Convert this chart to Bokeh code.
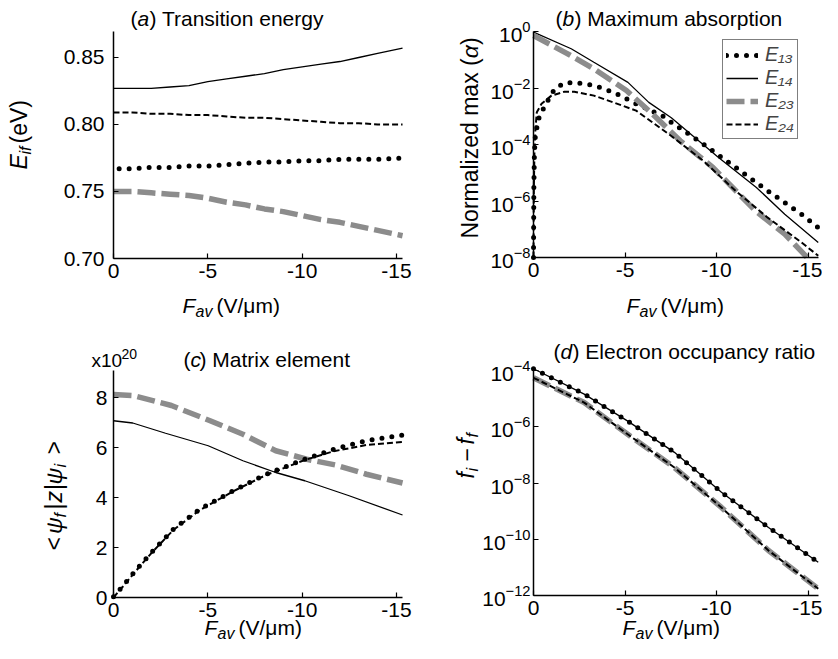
import math
from bokeh.plotting import figure
from bokeh.models import (Range1d, FixedTicker, Label, Legend, LegendItem, NumeralTickFormatter,
                          LinearAxis, LogAxis)
from bokeh.layouts import column, row
from bokeh.embed import file_html
from bokeh.resources import INLINE

FONT = "Liberation Sans"
GRAY = "#8c8c8c"

# ---------------- data ----------------
fav_ticks = [0, -5, -10, -15]
fav_tick_labels = ["0", "-5", "-10", "-15"]
legend_labels = ["E₁₃", "E₁₄", "E₂₃", "E₂₄"]

# (a) transition energy (eV)
a_ticks = [0.70, 0.75, 0.80, 0.85]
a_x = [0, -1, -2, -3, -4, -5, -6, -7, -8, -9, -10, -11, -12, -13, -14, -15.32]
a_e14 = [0.827, 0.827, 0.827, 0.828, 0.829, 0.832, 0.834, 0.836, 0.838, 0.841, 0.843, 0.845, 0.847, 0.850, 0.853, 0.857]
a_e24 = [0.809, 0.809, 0.808, 0.808, 0.807, 0.807, 0.806, 0.805, 0.805, 0.804, 0.803, 0.802, 0.801, 0.801, 0.800, 0.800]
a_e13_x = [-0.3, -1, -2, -3, -4, -5, -6, -7, -8, -9, -10, -11, -12, -13, -14, -15.32]
a_e13 = [0.767, 0.767, 0.768, 0.768, 0.769, 0.769, 0.770, 0.771, 0.772, 0.772, 0.773, 0.773, 0.774, 0.774, 0.774, 0.775]
a_e23 = [0.750, 0.750, 0.749, 0.748, 0.747, 0.745, 0.742, 0.740, 0.737, 0.735, 0.732, 0.729, 0.727, 0.724, 0.721, 0.717]

# (b) normalized maximum absorption
b_ticks = [1e-8, 1e-6, 1e-4, 1e-2, 1e0]
b_e14_x = [0, -2.06, -3.3, -5.16, -6.3, -7.53, -10.11, -12.18, -13.73, -15.56]
b_e14 = [0.955, 0.245, 0.0813, 0.0158, 3.1e-3, 8.9e-4, 3.47e-5, 3.02e-6, 3.39e-7, 3.39e-8]
b_e23_x = [0, -1.87, -3.3, -5.08, -6.5, -8.02, -9.8, -12.13, -13.73, -14.96]
b_e23 = [0.724, 0.162, 0.0479, 8.13e-3, 1.20e-3, 1.35e-4, 1.55e-5, 4.47e-7, 6.76e-8, 1.0e-8]
b_e13_x = [0, -0.02, -0.05, -0.1, -0.27, -0.62, -1.16, -1.69, -2.23, -3.3, -4.37, -5.61, -7.04, -7.5,
           -9.27, -11.04, -12.8, -14.65, -15.56]
b_e13 = [1e-8, 3.16e-6, 5.01e-5, 2.0e-4, 7.94e-4, 2.4e-3, 9.33e-3, 1.51e-2, 1.58e-2, 1.23e-2, 7.08e-3,
         2.75e-3, 1.05e-3, 6.31e-4, 1.05e-4, 1.55e-5, 2.29e-6, 3.39e-7, 1.15e-7]
b_e24_x = [0, -0.02, -0.05, -0.1, -0.18, -0.44, -0.98, -1.69, -2.23, -3.3, -4.37, -5.61, -7.53, -9.27,
           -11.04, -12.8, -14.65, -15.56]
b_e24 = [1e-8, 3.16e-6, 5.01e-5, 3.16e-4, 1.38e-3, 2.75e-3, 5.37e-3, 7.41e-3, 7.41e-3, 5.37e-3, 3.09e-3,
         1.58e-3, 2.0e-4, 2.69e-5, 2.29e-6, 2.57e-7, 3.39e-8, 1.15e-8]

# (c) matrix element (x1e20)
c_ticks = [0, 2, 4, 6, 8]
c_e23_x = [0, -1.02, -3.07, -5.12, -6.86, -8.6, -10.24, -11.78, -13.41, -15.32]
c_e23 = [8.12, 8.08, 7.68, 7.07, 6.53, 5.87, 5.53, 5.3, 4.93, 4.58]
c_e14_x = [0, -1.02, -2.76, -5.02, -6.86, -8.6, -10.14, -12.49, -15.32]
c_e14 = [7.07, 6.98, 6.57, 6.07, 5.47, 5.0, 4.67, 4.07, 3.3]
c_e13_x = [0, -0.51, -1.23, -2.1, -3.17, -4.58, -6.35, -8.09, -10.14, -11.67, -13.41, -15.32]
c_e13 = [0.03, 0.47, 1.13, 1.87, 2.73, 3.53, 4.27, 4.93, 5.53, 5.93, 6.27, 6.5]
c_e24 = [0.0, 0.45, 1.1, 1.85, 2.7, 3.5, 4.25, 4.9, 5.5, 5.85, 6.1, 6.22]

# (d) electron occupancy ratio
d_ticks = [1e-12, 1e-10, 1e-8, 1e-6, 1e-4]
d_x = [0, -2.77, -5.13, -7.7, -10.27, -12.84, -15.56]
d_upper = [1.15e-4, 1.45e-5, 1.62e-6, 1.23e-7, 4.68e-9, 2.63e-10, 1.51e-11]
d_lower = [5.5e-5, 7.24e-6, 5.5e-7, 3.55e-8, 1.35e-9, 3.98e-11, 1.74e-12]

# ---------------- styles ----------------
STY = {
    "E13": dict(line_color="black", line_width=5, line_dash="0 10", line_cap="round"),
    "E14": dict(line_color="black", line_width=1.3),
    "E23": dict(line_color=GRAY, line_width=5.5, line_dash="18 6"),
    "E24": dict(line_color="black", line_width=2, line_dash="6 3"),
}

ROW1_H, ROW2_H = 326, 317


def panel(W, H, ox, oy, px0, px15, x_end, py_lo, py_hi, y_lo, y_hi, log, yticks, ystand):
    """Figure whose frame is the whole canvas; axes are pinned (fixed_location)."""
    k = (px15 - px0) / 15.0
    xr = Range1d((px0 - ox) / k, -(ox + W - px0) / k)
    if log:
        lo, hi = math.log10(y_lo), math.log10(y_hi)
    else:
        lo, hi = y_lo, y_hi
    r = (hi - lo) / (py_lo - py_hi)
    ys, ye = lo - (oy + H - py_lo) * r, lo + (py_lo - oy) * r
    if log:
        yr = Range1d(10 ** ys, 10 ** ye)
    else:
        yr = Range1d(ys, ye)
    p = figure(width=W, height=H, x_range=xr, y_range=yr, y_axis_type="log" if log else "linear",
               x_axis_location=None, y_axis_location=None, output_backend="svg",
               toolbar_location=None, min_border=0)
    p.outline_line_color = None
    p.xgrid.visible = False
    p.ygrid.visible = False
    xa = LinearAxis(fixed_location=y_lo, bounds=(x_end, 0), ticker=FixedTicker(ticks=fav_ticks),
                    major_label_overrides=dict(zip(fav_ticks, fav_tick_labels)),
                    major_label_standoff=5)
    if log:
        ya = LogAxis(fixed_location=0, bounds=(y_lo, y_hi), ticker=FixedTicker(ticks=yticks),
                     major_label_standoff=ystand)
    else:
        ya = LinearAxis(fixed_location=0, bounds=(y_lo, y_hi), ticker=FixedTicker(ticks=yticks),
                        major_label_standoff=ystand)
    for ax in (xa, ya):
        ax.major_tick_in = 5
        ax.major_tick_out = 0
        ax.minor_tick_in = 0
        ax.minor_tick_out = 0
        ax.axis_line_color = "black"
        ax.axis_line_width = 1.5
        ax.major_tick_line_color = "black"
        ax.major_tick_line_width = 1.2
        ax.major_label_text_font = FONT
        ax.major_label_text_font_size = "21px"
        ax.major_label_text_color = "black"
    p.add_layout(xa, "below")
    p.add_layout(ya, "left")
    return p, ya


R90 = math.pi / 2


def put(p, frame, px, py, s, size=21, style="normal", angle=0.0):
    left, bottom, y0 = frame
    corr = 0.36 * size          # renderer places text a little below the alphabetic anchor
    if angle == 0.0:
        py -= corr
    else:
        px -= corr
    p.add_layout(Label(x=0, y=y0, x_units="data", y_units="data",
                       x_offset=px - left, y_offset=bottom - py, text=s, angle=angle,
                       text_font=FONT, text_font_size=f"{size}px", text_font_style=style,
                       text_color="black", text_align="left", text_baseline="alphabetic"))


def xlabel(p, frame, fx, base):
    put(p, frame, fx, base, "F", 21, "italic")
    put(p, frame, fx + 13, base + 4, "av", 16, "italic")
    put(p, frame, fx + 34, base, "(V/μm)", 21)


# ---------------- (a) ----------------
pa, ya = panel(420, ROW1_H, 0, 0, 113, 396, -15.32, 258, 31, 0.70, 0.8694, False, a_ticks, 9)
ya.formatter = NumeralTickFormatter(format="0.00")
pa.line(a_x, a_e14, **STY["E14"])
pa.line(a_x, a_e24, **STY["E24"])
pa.line(a_e13_x, a_e13, **STY["E13"])
pa.line(a_x, a_e23, **STY["E23"])
fa = (113, 258, 0.70)
put(pa, fa, 130, 26, "(")
put(pa, fa, 137, 26, "a", style="italic")
put(pa, fa, 149, 26, ") Transition energy")
xlabel(pa, fa, 182, 313)
put(pa, fa, 27, 169, "E", 23, "italic", R90)
put(pa, fa, 31, 154, "if", 16, "italic", R90)
put(pa, fa, 27, 143, "(eV)", 23, "normal", R90)

# ---------------- (b) ----------------
pb, _ = panel(402, ROW1_H, 420, 0, 533, 807.5, -15.56, 257, 31, 1e-8, 1.0, True, b_ticks, 3)
r13 = pb.line(b_e13_x, b_e13, **STY["E13"])
r14 = pb.line(b_e14_x, b_e14, **STY["E14"])
r23 = pb.line(b_e23_x, b_e23, **STY["E23"])
r24 = pb.line(b_e24_x, b_e24, **STY["E24"])
fb = (533, 257, 1e-8)
put(pb, fb, 555, 26, "(")
put(pb, fb, 562, 26, "b", style="italic")
put(pb, fb, 574, 26, ") Maximum absorption")
xlabel(pb, fb, 626, 313)
put(pb, fb, 478, 238, "Normalized max (", 23, "normal", R90)
put(pb, fb, 478, 57.8, "α", 23, "italic", R90)
put(pb, fb, 478, 44.5, ")", 23, "normal", R90)
leg = Legend(items=[LegendItem(label=lbl, renderers=[r]) for lbl, r in zip(legend_labels, [r13, r14, r23, r24])],
             location=(722 - 420, ROW1_H - 139))
leg.label_text_font = FONT
leg.label_text_font_size = "20px"
leg.label_text_font_style = "italic"
leg.glyph_width = 32
leg.glyph_height = 20
leg.label_height = 20
leg.label_standoff = 7
leg.spacing = 0
leg.padding = 3
leg.margin = 0
leg.border_line_color = "black"
leg.border_line_width = 1.3
leg.background_fill_alpha = 1.0
pb.add_layout(leg)

# ---------------- (c) ----------------
pc, _ = panel(420, ROW2_H, 0, ROW1_H, 113, 396, -15.32, 597, 370, 0, 9.08, False, c_ticks, 6)
pc.line(c_e23_x, c_e23, **STY["E23"])
pc.line(c_e14_x, c_e14, **STY["E14"])
pc.line(c_e13_x, c_e24, **STY["E24"])
pc.line(c_e13_x, c_e13, **STY["E13"])
fc = (113, 597, 0)
put(pc, fc, 183, 367, "(")
put(pc, fc, 190, 367, "c", style="italic")
put(pc, fc, 199, 367, ") Matrix element")
put(pc, fc, 91, 367, "x10", 19)
put(pc, fc, 121, 359, "20", 14)
xlabel(pc, fc, 204, 635)
put(pc, fc, 62, 550, "<", 23, "normal", R90)
put(pc, fc, 62, 533.5, "ψ", 23, "italic", R90)
put(pc, fc, 66, 517, "f", 16, "italic", R90)
put(pc, fc, 62, 509, "|", 23, "normal", R90)
put(pc, fc, 62, 502, "z", 23, "italic", R90)
put(pc, fc, 62, 489.5, "|", 23, "normal", R90)
put(pc, fc, 62, 484, "ψ", 23, "italic", R90)
put(pc, fc, 66, 467, "i", 16, "italic", R90)
put(pc, fc, 62, 454, ">", 23, "normal", R90)

# ---------------- (d) ----------------
pd, _ = panel(402, ROW2_H, 420, ROW1_H, 533, 807.5, -15.56, 595, 370, 1e-12, 1e-4, True, d_ticks, 3)
pd.line(d_x, d_lower, **STY["E23"])
pd.line(d_x, d_lower, **STY["E24"])
pd.line(d_x, d_upper, **STY["E14"])
pd.line(d_x, d_upper, **STY["E13"])
fd = (533, 595, 1e-12)
put(pd, fd, 553, 359, "(")
put(pd, fd, 560, 359, "d", style="italic")
put(pd, fd, 572, 359, ") Electron occupancy ratio")
xlabel(pd, fd, 622, 635)
put(pd, fd, 474, 478, "f", 23, "italic", R90)
put(pd, fd, 478, 471, "i", 16, "italic", R90)
put(pd, fd, 474, 461, "−", 23, "normal", R90)
put(pd, fd, 474, 444, "f", 23, "italic", R90)
put(pd, fd, 478, 437, "f", 16, "italic", R90)

layout = column(row(pa, pb), row(pc, pd))
open("out.html", "w").write(file_html(layout, INLINE))
